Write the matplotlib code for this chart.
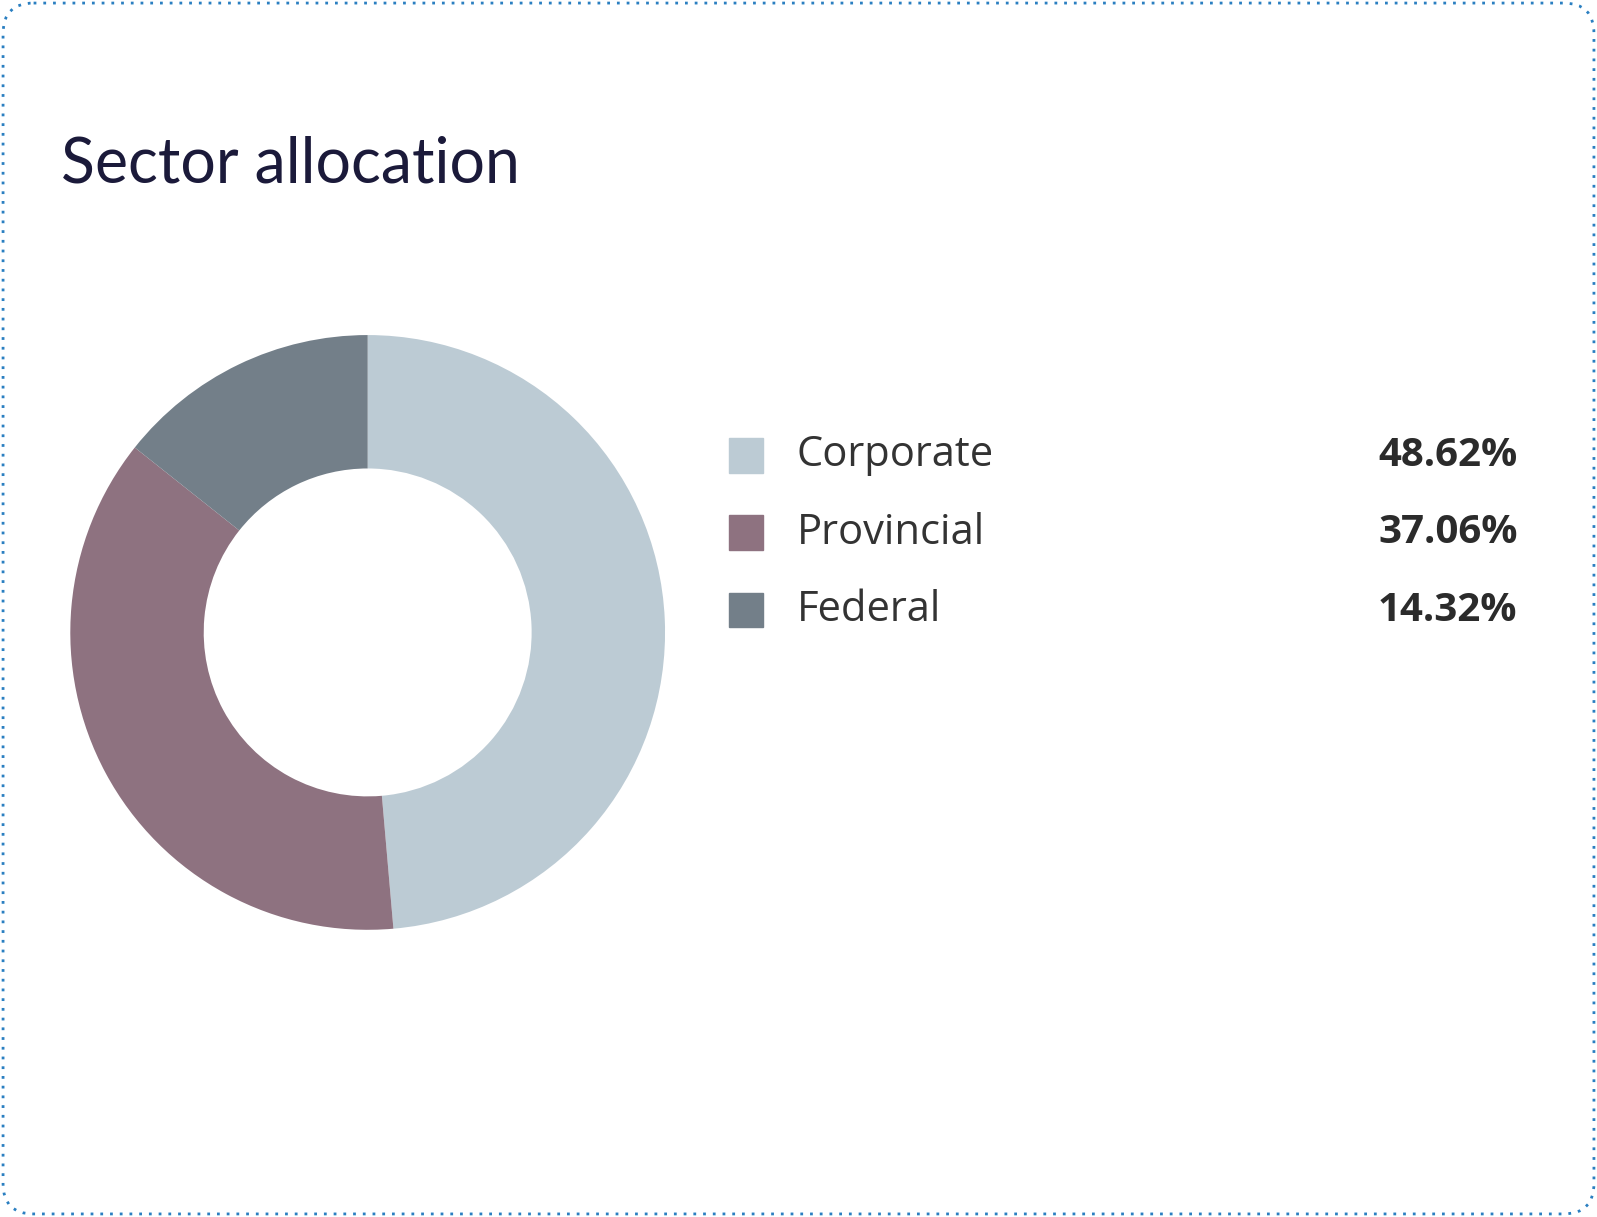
import matplotlib.pyplot as plt
from matplotlib.patches import FancyBboxPatch, Rectangle

# --- data ---
sectors = ["Corporate", "Provincial", "Federal"]
weights = [48.62, 37.06, 14.32]
colors = ["#bccbd4", "#8e7280", "#737f89"]

W, H = 1568, 1195  # layout units (match picture proportions)

fig = plt.figure(figsize=(15.97, 12.17), dpi=100)
ax = fig.add_axes([0, 0, 1, 1])
ax.set_xlim(0, W)
ax.set_ylim(H, 0)
ax.axis("off")

# dotted rounded card border
card = FancyBboxPatch((3, 3), W - 6, H - 6, boxstyle="round,pad=0,rounding_size=30",
                      fill=False, edgecolor="#2a7fc1", linestyle=(0, (1, 2.5)), linewidth=2)
ax.add_patch(card)

ax.text(60, 162, "Sector allocation", fontsize=45, family="Lato",
        color="#1b1a3a", va="center", ha="left")

# legend rows
row_y = [447, 523, 599]
for name, val, col, y in zip(sectors, weights, colors, row_y):
    ax.add_patch(Rectangle((716, y - 17), 33, 34, color=col))
    ax.text(782, y, name, fontsize=30, family="Open Sans", color="#333333",
            va="center", ha="left")
    ax.text(1490, y, f"{val:.2f}%", fontsize=29, family="Open Sans", weight="bold",
            color="#2b2b2b", va="center", ha="right")

# donut
cx, cy, r_out, r_in = 361, 621, 292, 161
pax = fig.add_axes([(cx - r_out) / W, 1 - (cy + r_out) / H, 2 * r_out / W, 2 * r_out / H])
pax.pie(weights, colors=colors, startangle=90, counterclock=False, radius=1,
        wedgeprops=dict(width=(r_out - r_in) / r_out, linewidth=0))
pax.set_xlim(-1, 1)
pax.set_ylim(-1, 1)
pax.axis("off")

fig.savefig("out.png", dpi=100)
